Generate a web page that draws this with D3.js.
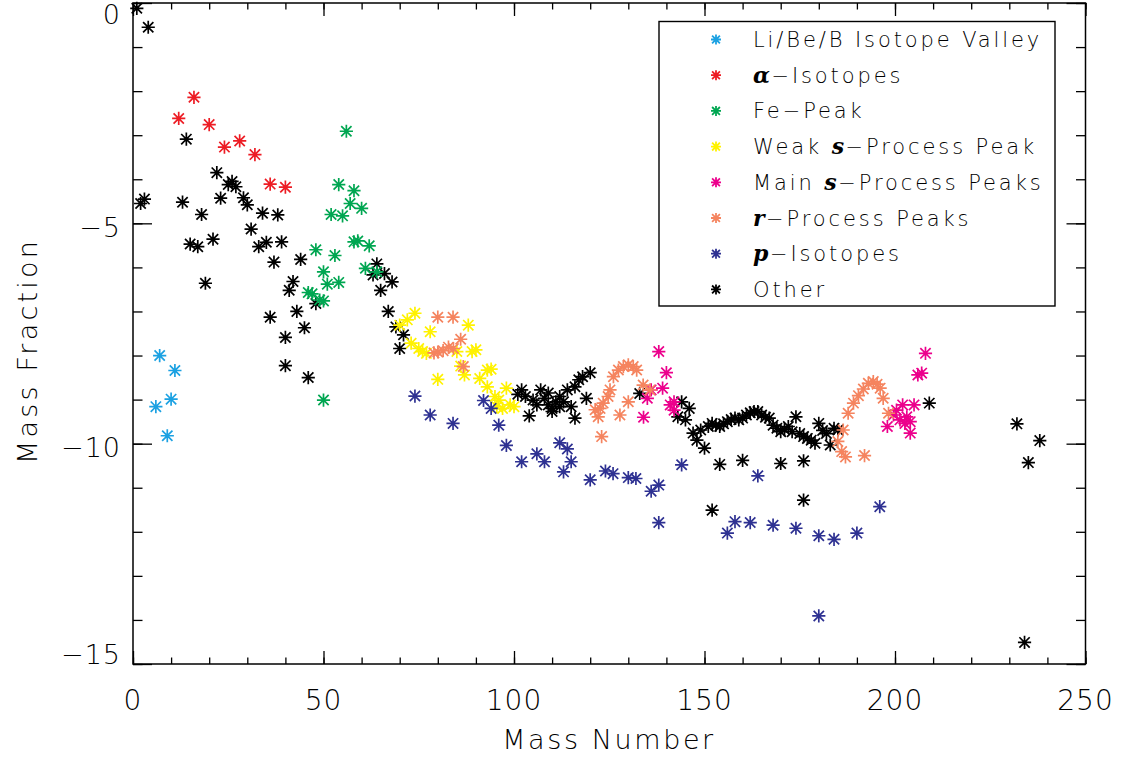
<!DOCTYPE html>
<html>
<head>
<meta charset="utf-8">
<script src="https://cdn.jsdelivr.net/npm/d3@7"></script>
<style>
  html, body { margin: 0; padding: 0; background: #fff; }
  svg { display: block; }
  .lbl { font-family: "DejaVu Sans", sans-serif; font-weight: 200; fill: #000; }
</style>
</head>
<body>
<svg id="chart" width="1125" height="757"></svg>
<script>
// ---------------- DATA ----------------
const seriesNames = [
  "Li/Be/B Isotope Valley",
  "$\u03b1$\u2212Isotopes",
  "Fe\u2212Peak",
  "Weak $s$\u2212Process Peak",
  "Main $s$\u2212Process Peaks",
  "$r$\u2212Process Peaks",
  "$p$\u2212Isotopes",
  "Other"
];

const xTickLabels = ["0", "50", "100", "150", "200", "250"];
const xTickValues = [0, 50, 100, 150, 200, 250];
const yTickLabels = ["0", "\u22125", "\u221210", "\u221215"];
const yTickValues = [0, -5, -10, -15];

// [mass number, log10 mass fraction]
const liBeB = [[6,-9.16],[7,-8.0],[9,-9.82],[10,-8.99],[11,-8.34]];

const alphaIso = [[12,-2.62],[16,-2.14],[20,-2.76],[24,-3.27],[28,-3.13],[32,-3.44],[36,-4.11],[40,-4.18]];

const fePeak = [[56,-2.91],[54,-4.12],[58,-4.26],[57,-4.55],[60,-4.66],[52,-4.80],[55,-4.83],
  [58,-5.42],[59,-5.40],[62,-5.51],[48,-5.60],[53,-5.73],[61,-6.02],[64,-6.10],[50,-6.10],
  [51,-6.38],[54,-6.34],[46,-6.57],[47,-6.60],[49,-6.74],[50,-6.76],[50,-9.01]];

const weakS = [[70,-7.31],[72,-7.19],[74,-7.04],[78,-7.46],[88,-7.31],[73,-7.72],[75,-7.84],
  [76,-7.91],[77,-7.95],[85,-7.91],[89,-7.91],[90,-7.87],[80,-8.54],[86,-8.24],[87,-8.44],
  [91,-8.52],[93,-8.33],[94,-8.31],[93,-8.71],[98,-8.74],[95,-8.93],[96,-9.01],[95.5,-9.16],
  [97,-9.2],[100,-9.16],[99,-9.12]];

const mainS = [[138,-7.91],[140,-8.39],[139,-8.74],[136,-8.78],[135,-8.97],[134,-9.40],
  [141,-9.12],[142,-9.05],[142,-9.24],
  [198,-9.61],[199.6,-9.35],[200.4,-9.24],[201.3,-9.46],[202,-9.12],[202.6,-9.54],[203.1,-9.39],
  [204,-9.50],[204,-9.76],[205,-9.12],[206,-8.44],[207,-8.40],[208,-7.95]];

const rProc = [[80,-7.13],[84,-7.13],[86,-7.63],[79,-7.94],[80,-7.92],[81.4,-7.89],[82.8,-7.81],
  [84.1,-7.84],[86.7,-8.25],
  [121.3,-9.23],[122.1,-9.39],[122.6,-9.20],[123,-9.84],[123.4,-9.08],[124.7,-8.93],[125.2,-8.78],
  [126.1,-8.48],[127.4,-8.33],[127.8,-9.35],[128.7,-8.25],[130,-8.21],[130,-9.05],[131.3,-8.25],
  [132.2,-8.33],[133.9,-8.67],[135.7,-8.78],
  [185,-9.95],[186,-10.18],[186.4,-9.69],[187,-10.30],[187.7,-9.31],[189.1,-9.08],[190.4,-8.91],
  [191.7,-8.76],[192,-10.27],[193,-8.63],[194.3,-8.59],[195.3,-8.65],[196.1,-8.74],[196.9,-8.97],
  [198.3,-9.31]];

const pIso = [[74,-8.92],[78,-9.35],[84,-9.54],[92,-9.02],[94,-9.20],[96,-9.58],[98,-10.04],
  [102,-10.41],[106,-10.23],[108,-10.41],[112,-9.98],[113,-10.64],[114,-10.12],[115,-10.41],
  [120,-10.82],[124,-10.62],[126,-10.68],[130,-10.77],[132,-10.79],[136,-11.08],[138,-10.94],
  [138,-11.79],[144,-10.48],[156,-12.03],[158,-11.77],[162,-11.79],[164,-10.73],[168,-11.85],
  [174,-11.92],[180,-12.09],[180,-13.91],[184,-12.17],[190,-12.03],[196,-11.43]];

const other = [[1,-0.12],[4,-0.55],[2,-4.55],[3,-4.45],[14,-3.09],[13,-4.52],[18,-4.80],
  [22,-3.85],[23,-4.43],[25,-4.12],[26,-4.05],[27,-4.17],[29,-4.42],[30,-4.58],[34,-4.77],
  [38,-4.81],[31,-5.13],[15,-5.47],[17,-5.53],[21,-5.36],[33,-5.53],[35,-5.43],[39,-5.42],
  [37,-5.88],[44,-5.82],[19,-6.36],[42,-6.32],[41,-6.52],[36,-7.13],[43,-7.0],[48,-6.82],
  [40,-7.59],[45,-7.37],[40,-8.23],[46,-8.50],[64,-5.92],[63,-6.17],[66,-6.14],[68,-6.33],
  [65,-6.52],[67,-7.0],[69,-7.35],[71,-7.53],[70,-7.84],
  [101,-8.88],[102,-8.78],[103,-8.93],[104,-9.37],[105,-9.01],[106,-9.12],[107,-8.78],[108,-8.97],
  [109,-9.12],[109,-8.85],[110,-9.20],[110,-9.27],[111,-9.05],[112,-8.93],[112,-9.16],[113,-9.05],
  [114,-8.78],[115,-9.16],[116,-8.71],[116,-9.42],[117,-8.55],[118,-8.48],[119,-8.97],[120,-8.39],
  [133,-8.86],[143,-9.39],[144,-9.05],[146,-9.20],[145,-9.46],[147,-9.76],[148,-9.92],[149,-9.69],
  [150,-10.10],[151,-9.61],[152,-9.54],[153,-9.58],[154,-9.61],[155,-9.55],[156,-9.50],[157,-9.45],
  [158,-9.42],[159,-9.46],[160,-9.42],[161,-9.35],[162,-9.30],[163,-9.27],[164,-9.27],[165,-9.35],
  [166,-9.40],[167,-9.42],[168,-9.58],[169,-9.65],[170,-9.73],[171,-9.68],[172,-9.61],[173,-9.73],
  [174,-9.39],[175,-9.77],[176,-9.84],[177,-9.88],[178,-9.92],[179,-9.99],[180,-9.54],[181,-9.70],
  [182,-9.77],[183,-10.03],[184,-9.65],[185,-9.69],
  [154,-10.47],[160,-10.38],[170,-10.45],[176,-10.39],[176,-11.28],[152,-11.51],
  [209,-9.08],[232,-9.55],[238,-9.93],[235,-10.43],[234,-14.51]];

// ---------------- STYLE ----------------
const seriesData = [liBeB, alphaIso, fePeak, weakS, mainS, rProc, pIso, other];
const seriesColors = ["#1ba1e2", "#ed1c24", "#00a651", "#fff200", "#ec008c", "#f5845f", "#2e3192", "#000000"];
const drawOrder = [7, 0, 1, 2, 3, 4, 5, 6];

const plot = { left: 133, right: 1085.5, top: 3, bottom: 664 };

const svg = d3.select("#chart");
const x = d3.scaleLinear().domain([0, 250]).range([plot.left, plot.right]);
const y = d3.scaleLinear().domain([-15, 0]).range([plot.bottom, plot.top]);

function starPath(r) {
  const d = r * 0.78;
  return `M0,${-r}V${r}M${-r},0H${r}M${-d},${-d}L${d},${d}M${-d},${d}L${d},${-d}`;
}

// ---------------- MARKERS ----------------
const gPts = svg.append("g");
drawOrder.forEach(si => {
  gPts.append("g")
    .selectAll("path")
    .data(seriesData[si])
    .join("path")
    .attr("d", starPath(6.6))
    .attr("transform", d => `translate(${x(d[0])},${y(d[1])})`)
    .attr("fill", "none")
    .attr("stroke", seriesColors[si])
    .attr("stroke-width", 1.7);
});

// ---------------- AXES ----------------
const xMinor = d3.range(0, 251, 10);
const yMinor = d3.range(-15, 0.1, 1);
const axStyle = g => {
  g.select(".domain").remove();
  g.selectAll("line").attr("stroke", "#000").attr("stroke-width", 1.3);
  g.selectAll("text").remove();
};
svg.append("g").attr("transform", `translate(0,${plot.bottom})`)
  .call(d3.axisBottom(x).tickValues(xMinor).tickSize(-6.5)).call(axStyle);
svg.append("g").attr("transform", `translate(0,${plot.bottom})`)
  .call(d3.axisBottom(x).tickValues(xTickValues).tickSize(-13)).call(axStyle);
svg.append("g").attr("transform", `translate(0,${plot.top})`)
  .call(d3.axisTop(x).tickValues(xMinor).tickSize(-6.5)).call(axStyle);
svg.append("g").attr("transform", `translate(0,${plot.top})`)
  .call(d3.axisTop(x).tickValues(xTickValues).tickSize(-13)).call(axStyle);
svg.append("g").attr("transform", `translate(${plot.left},0)`)
  .call(d3.axisLeft(y).tickValues(yMinor).tickSize(-9.5)).call(axStyle);
svg.append("g").attr("transform", `translate(${plot.left},0)`)
  .call(d3.axisLeft(y).tickValues(yTickValues).tickSize(-19)).call(axStyle);
svg.append("g").attr("transform", `translate(${plot.right},0)`)
  .call(d3.axisRight(y).tickValues(yMinor).tickSize(-9.5)).call(axStyle);
svg.append("g").attr("transform", `translate(${plot.right},0)`)
  .call(d3.axisRight(y).tickValues(yTickValues).tickSize(-19)).call(axStyle);

svg.append("rect")
  .attr("x", plot.left).attr("y", plot.top)
  .attr("width", plot.right - plot.left).attr("height", plot.bottom - plot.top)
  .attr("fill", "none").attr("stroke", "#000").attr("stroke-width", 1.5);

// tick labels
svg.append("g").selectAll("text").data(xTickValues).join("text")
  .attr("class", "lbl")
  .attr("x", d => x(d)).attr("y", plot.bottom + 46)
  .attr("text-anchor", "middle")
  .attr("font-size", 28)
  .attr("letter-spacing", 1)
  .text((d, i) => xTickLabels[i]);

svg.append("g").selectAll("text").data(yTickValues).join("text")
  .attr("class", "lbl")
  .attr("x", plot.left - 12)
  .attr("y", d => Math.min(plot.bottom - 10, Math.max(plot.top + 11, y(d) + 4)))
  .attr("dy", "0.36em")
  .attr("text-anchor", "end")
  .attr("font-size", 27)
  .attr("letter-spacing", 1)
  .text((d, i) => yTickLabels[i]);

// axis titles
svg.append("text").attr("class", "lbl")
  .attr("x", 609).attr("y", 749)
  .attr("text-anchor", "middle").attr("font-size", 27)
  .attr("letter-spacing", 2.6)
  .text("Mass Number");

svg.append("text").attr("class", "lbl")
  .attr("transform", `translate(37,351) rotate(-90)`)
  .attr("text-anchor", "middle").attr("font-size", 27)
  .attr("letter-spacing", 3.2)
  .text("Mass Fraction");

// ---------------- LEGEND ----------------
const leg = svg.append("g");
leg.append("rect")
  .attr("x", 659).attr("y", 21.5).attr("width", 396).attr("height", 284.5)
  .attr("fill", "#fff").attr("stroke", "#000").attr("stroke-width", 1.4);

seriesNames.forEach((name, i) => {
  const cy = 39.5 + i * 35.7;
  leg.append("path")
    .attr("d", starPath(5))
    .attr("transform", `translate(716,${cy})`)
    .attr("fill", "none").attr("stroke", seriesColors[i]).attr("stroke-width", 1.8);
  const t = leg.append("text").attr("class", "lbl")
    .attr("x", 753).attr("y", cy).attr("dy", "0.36em")
    .attr("font-size", 21).attr("letter-spacing", 2.9);
  name.split("$").forEach((part, k) => {
    if (!part) return;
    const ts = t.append("tspan").text(part);
    if (k % 2 === 1) {
      ts.attr("font-family", "DejaVu Serif, serif")
        .attr("font-style", "italic").attr("font-weight", "bold")
        .attr("font-size", 22).attr("letter-spacing", 1.5);
    }
  });
});
</script>
</body>
</html>
